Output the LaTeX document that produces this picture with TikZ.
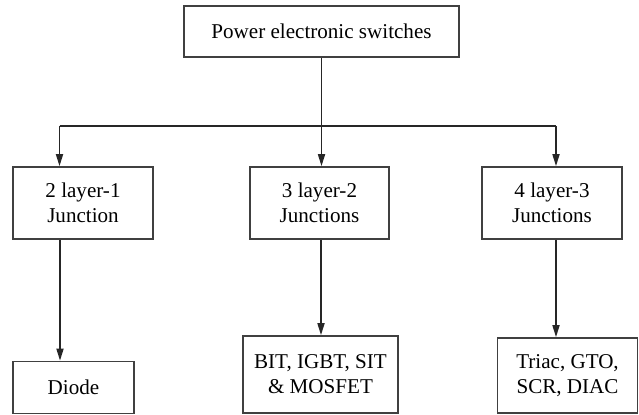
\documentclass[tikz,border=0pt]{standalone}
\usepackage{fontspec}
\setmainfont{Liberation Serif}
\usepackage{tikz}
\usetikzlibrary{arrows.meta}

\begin{document}
\begin{tikzpicture}[
            x=0.02cm, y=-0.02cm,
            >={Triangle[length=2.4mm, width=1.4mm]},
            line width=0.95pt,
            block/.style={draw=black!75, line width=0.95pt, align=center,
                inner sep=0pt, font=\fontsize{12}{14.3}\selectfont},
            link/.style={->, draw=black!85, line width=0.95pt},
        ]
        \useasboundingbox (0,0) rectangle (639,415);

        % top level
        \node[block, minimum width=5.5cm, minimum height=1.02cm] (switches) at (321.5,31.5)
            {Power electronic switches};

        % junction types
        \node[block, minimum width=2.8cm, minimum height=1.44cm] (layerA) at (83,203)
            {2 layer-1\\Junction};
        \node[block, minimum width=2.78cm, minimum height=1.44cm] (layerB) at (319.5,203)
            {3 layer-2\\Junctions};
        \node[block, minimum width=2.8cm, minimum height=1.44cm] (layerC) at (552,203)
            {4 layer-3\\Junctions};

        % devices
        \node[block, minimum width=2.42cm, minimum height=1.04cm] (diode) at (73.5,387.5)
            {Diode};
        \node[block, minimum width=3.1cm, minimum height=1.54cm] (bjt) at (320.5,374.5)
            {BIT, IGBT, SIT\\\& MOSFET};
        \node[block, minimum width=2.8cm, minimum height=1.5cm] (thyristor) at (567.5,375.5)
            {Triac, GTO,\\SCR, DIAC};

        \coordinate (busA) at (59.5,126);
        \coordinate (busB) at (321.5,126);
        \coordinate (busC) at (556,126);
        \coordinate (dropA) at (60,239);
        \coordinate (dropB) at (321,239);
        \coordinate (dropC) at (556,239);

        \draw[draw=black!85] (busA) -- (busC);
        \draw[link] (switches.south) -- (busB |- layerB.north);
        \draw[link] (busA) -- (busA |- layerA.north);
        \draw[link] (busC) -- (busC |- layerC.north);

        \draw[link] (dropA |- layerA.south) -- (dropA |- diode.north);
        \draw[link] (dropB |- layerB.south) -- (dropB |- bjt.north);
        \draw[link] (dropC |- layerC.south) -- (dropC |- thyristor.north);
        \end{tikzpicture}
\end{document}
